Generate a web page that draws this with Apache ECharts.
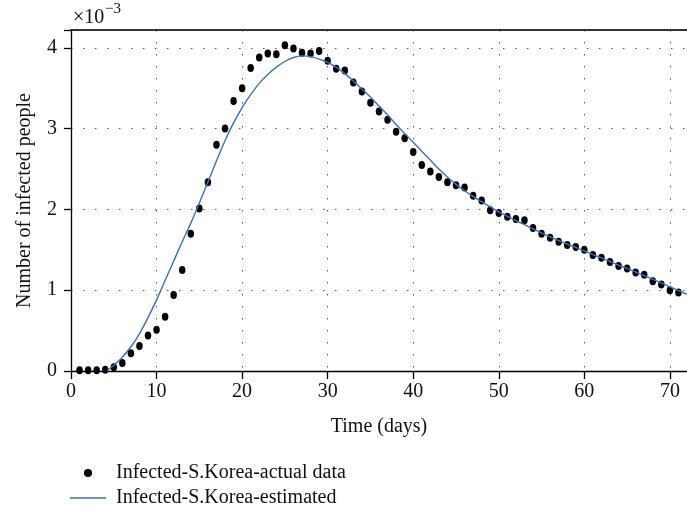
<!DOCTYPE html>
<html>
<head>
<meta charset="utf-8">
<script src="https://cdn.jsdelivr.net/npm/echarts@6/dist/echarts.min.js"></script>
<style>
  html, body { margin: 0; padding: 0; background: #fff; }
  #chart { width: 687px; height: 509px; }
</style>
</head>
<body>
<div id="chart"></div>
<script>
// actual data (x10^-3), one point per day
const actualDays = [1, 2, 3, 4, 5, 6, 7, 8, 9, 10, 11, 12, 13, 14, 15, 16, 17, 18, 19, 20,
  21, 22, 23, 24, 25, 26, 27, 28, 29, 30, 31, 32, 33, 34, 35, 36, 37, 38, 39, 40,
  41, 42, 43, 44, 45, 46, 47, 48, 49, 50, 51, 52, 53, 54, 55, 56, 57, 58, 59, 60,
  61, 62, 63, 64, 65, 66, 67, 68, 69, 70, 71];
const actualValues = [0.01, 0.01, 0.01, 0.016, 0.046, 0.10, 0.22, 0.31, 0.44, 0.51, 0.67, 0.94, 1.25, 1.70, 2.01, 2.335, 2.80, 3.00, 3.34, 3.50,
  3.75, 3.88, 3.93, 3.92, 4.03, 3.99, 3.94, 3.93, 3.96, 3.84, 3.74, 3.72, 3.57, 3.46, 3.32, 3.21, 3.11, 2.96, 2.88, 2.71,
  2.55, 2.47, 2.40, 2.335, 2.30, 2.27, 2.17, 2.11, 1.99, 1.955, 1.91, 1.88, 1.865, 1.77, 1.70, 1.65, 1.60, 1.56, 1.535, 1.50,
  1.435, 1.40, 1.35, 1.30, 1.27, 1.22, 1.19, 1.11, 1.07, 1.00, 0.97];

// estimated curve (x10^-3)
const estDays = [4.2, 5, 6, 7, 8, 9, 10, 11, 12, 13, 14, 15, 16, 17, 18, 19, 20,
  21, 22, 23, 24, 25, 26, 27, 28, 29, 30, 31, 32, 33, 34, 35, 36, 37, 38, 39, 40,
  41, 42, 43, 44, 45, 46, 47, 48, 49, 50, 51, 52, 53, 54, 55, 56, 57, 58, 59, 60,
  61, 62, 63, 64, 65, 66, 67, 68, 69, 70, 71, 72];
const estValues = [0, 0.07, 0.17, 0.30, 0.46, 0.66, 0.88, 1.12, 1.36, 1.60, 1.83, 2.08, 2.34, 2.60, 2.85, 3.07, 3.26,
  3.42, 3.56, 3.67, 3.76, 3.83, 3.88, 3.90, 3.89, 3.86, 3.82, 3.76, 3.68, 3.59, 3.49, 3.39, 3.28, 3.17, 3.05, 2.94, 2.83,
  2.72, 2.61, 2.50, 2.40, 2.31, 2.23, 2.16, 2.095, 2.03, 1.97, 1.915, 1.86, 1.81, 1.76, 1.71, 1.66, 1.615, 1.57, 1.53, 1.485,
  1.44, 1.40, 1.355, 1.31, 1.27, 1.225, 1.18, 1.135, 1.09, 1.04, 0.995, 0.95];

const fontFamily = 'Liberation Serif';
const textColor = '#111';
const lineColor = '#3a70c2'; // estimated curve
const gridDots = { color: '#555', width: 1, type: [1.5, 10.5] }; // dotted grid

const chart = echarts.init(document.getElementById('chart'));

chart.setOption({
  animation: false,
  textStyle: { fontFamily: fontFamily },
  grid: { left: 71, right: 0, top: 30, bottom: 138 },
  // x10^-3 multiplier above the y axis
  graphic: [
    { type: 'text', left: 73, top: 8, style: { text: '×10', fontFamily: fontFamily, fontSize: 20, fill: textColor } },
    { type: 'text', left: 105, top: 2, style: { text: '−3', fontFamily: fontFamily, fontSize: 15, fill: textColor } }
  ],
  legend: {
    orient: 'vertical',
    left: 70,
    top: 463,
    padding: 0,
    itemWidth: 36,
    itemHeight: 8,
    itemGap: 5,
    textStyle: { fontFamily: fontFamily, fontSize: 20, color: textColor, padding: [0, 0, 0, 5] },
    data: [
      { name: 'Infected-S.Korea-actual data', icon: 'circle' },
      { name: 'Infected-S.Korea-estimated', icon: 'path://M0,0H36V1.4H0Z' }
    ]
  },
  xAxis: [
    {
      type: 'value',
      min: 0,
      max: 72,
      interval: 10,
      name: 'Time (days)',
      nameLocation: 'middle',
      nameGap: 46,
      nameTextStyle: { fontFamily: fontFamily, fontSize: 20, color: textColor },
      axisLine: { lineStyle: { color: '#000', width: 1.3 } },
      axisTick: { length: 8, lineStyle: { color: '#000', width: 1.3 } },
      axisLabel: { fontSize: 20, color: textColor, margin: 11, showMaxLabel: false },
      splitLine: { show: true, lineStyle: gridDots }
    },
    {
      // top frame line
      type: 'value',
      position: 'top',
      min: 0,
      max: 72,
      axisLine: { show: true, onZero: false, lineStyle: { color: '#333', width: 2 } },
      axisTick: { show: false },
      axisLabel: { show: false },
      splitLine: { show: false }
    }
  ],
  yAxis: {
    type: 'value',
    min: 0,
    max: 4.22,
    interval: 1,
    name: 'Number of infected people',
    nameLocation: 'middle',
    nameGap: 36,
    nameTextStyle: { fontFamily: fontFamily, fontSize: 20, color: textColor },
    axisLine: { show: true, lineStyle: { color: '#000', width: 1.3 } },
    axisTick: { show: true, length: 7, lineStyle: { color: '#000', width: 1.3 } },
    axisLabel: {
      fontSize: 20,
      color: textColor,
      margin: 14,
      formatter: (v) => (Number.isInteger(v) ? String(v) : '')
    },
    splitLine: { show: true, lineStyle: gridDots }
  },
  series: [
    {
      name: 'Infected-S.Korea-actual data',
      type: 'scatter',
      symbol: 'circle',
      symbolSize: [6.5, 8],
      itemStyle: { color: '#000', opacity: 1 },
      data: actualDays.map((d, i) => [d, actualValues[i]])
    },
    {
      name: 'Infected-S.Korea-estimated',
      type: 'line',
      smooth: 0.3,
      symbol: 'none',
      lineStyle: { color: lineColor, width: 1.4 },
      itemStyle: { color: lineColor },
      data: estDays.map((d, i) => [d, estValues[i]])
    }
  ]
});
</script>
</body>
</html>
